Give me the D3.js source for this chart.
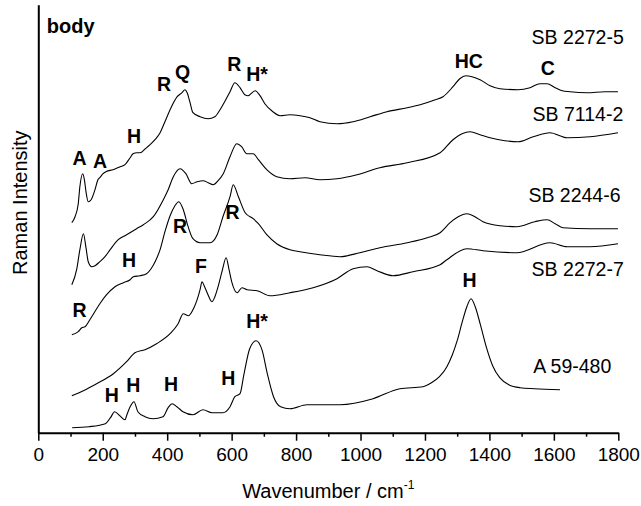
<!DOCTYPE html>
<html>
<head>
<meta charset="utf-8">
<script src="https://cdn.jsdelivr.net/npm/d3@7"></script>
<style>
  html, body { margin: 0; padding: 0; background: #fff; }
  svg { display: block; }
  text { font-family: "Liberation Sans", Arial, sans-serif; fill: #000; }
</style>
</head>
<body>
<svg id="chart" width="641" height="506"></svg>
<script>
// ---------- data (wavenumber / cm-1, Raman intensity in arbitrary offset units) ----------
const xTicks = [0, 200, 400, 600, 800, 1000, 1200, 1400, 1600, 1800];
const xMinorTicks = [100, 300, 500, 700, 900, 1100, 1300, 1500, 1700];

const sampleNames = ["SB 2272-5", "SB 7114-2", "SB 2244-6", "SB 2272-7", "A 59-480"];

const wn_SB2272_5 = [104,114,124,129,138,143,148,155,164,176,185,191,201,210,232,254,269,285,294,306,316,332,347,362,378,393,409,431,446,455,462,471,480,502,527,548,564,580,595,610,626,641,651,673,688,703,728,750,781,812,843,874,927,977,1030,1082,1145,1185,1232,1256,1287,1308,1327,1346,1371,1402,1433,1489,1526,1557,1579,1604,1626,1650,1703,1759,1799];
const int_SB2272_5 = [210,216,229,246,259,253,241,231,233,243,253,255,259,261,263,266,268,275,279,280,280,284,288,293,300,311,323,336,340,343,340,330,320,316,314,316,323,332,341,350,345,338,337,342,337,329,321,317,318,317,315,311,309,311,316,321,325,328,333,336,346,354,357,356,353,347,344,343,345,349,349,345,342,341,340,341,341];

const wn_SB7114_2 = [104,119,129,140,148,155,166,176,191,207,223,248,274,305,326,357,388,403,419,440,458,476,493,512,527,543,558,574,595,616,631,647,667,683,709,740,781,828,874,927,989,1060,1145,1247,1287,1315,1340,1371,1402,1448,1489,1536,1588,1641,1712,1799];
const int_SB7114_2 = [148,163,183,199,185,171,166,167,171,176,183,193,198,204,208,216,233,243,256,264,259,249,251,252,250,248,252,259,276,289,286,279,279,273,263,256,254,255,253,254,258,265,270,280,293,299,301,298,295,292,291,296,300,295,296,300];

const wn_SB2244_6 = [104,124,135,145,160,191,212,238,264,285,295,316,336,350,364,378,393,409,424,436,450,465,480,502,533,555,573,595,605,621,642,667,683,709,740,781,812,874,936,998,1060,1145,1207,1247,1278,1303,1330,1355,1380,1433,1485,1541,1579,1604,1628,1712,1799];
const int_SB2244_6 = [98,101,105,106,113,129,138,146,150,153,156,157,159,164,172,183,201,217,227,231,223,206,194,190,190,198,216,236,248,236,220,214,209,198,189,183,181,178,176,180,185,190,195,200,210,216,219,216,211,207,206,211,213,209,205,204,204];

const wn_SB2272_7 = [104,140,181,233,274,300,331,367,409,434,450,466,483,493,502,508,516,524,539,548,558,570,583,592,601,617,632,648,679,719,781,853,927,977,1020,1051,1101,1163,1247,1268,1330,1380,1485,1588,1641,1712,1799];
const int_SB2272_7 = [37,42,49,59,71,80,83,89,99,109,119,117,125,133,143,151,146,140,131,136,146,161,175,163,150,140,145,143,142,137,140,145,154,164,166,162,157,161,168,173,184,182,180,190,186,186,189];

const wn_A59_480 = [105,157,208,224,237,253,269,275,285,297,309,331,356,387,403,415,430,449,480,511,539,573,595,610,626,638,656,676,695,710,730,752,781,834,936,1039,1122,1194,1220,1245,1268,1285,1300,1315,1330,1343,1356,1372,1390,1410,1432,1460,1495,1540,1619];
const int_A59_480 = [5,6,9,15,21,17,13,18,26,31,21,16,14,16,25,29,26,21,18,23,20,20,26,36,39,58,84,92,82,60,36,26,24,28,28,34,44,46,50,56,66,78,92,110,126,134,126,108,86,67,55,48,45,44,43];

// peak assignment labels (bold), anchored in data coordinates
const peakLabels = ["A","A","H","R","Q","R","H*","HC","C","R","R","R","H","F","H","H","H","H","H*","H"];
const peakWn     = [128,192,297,390,448,608,679,1336,1581,440,603,128,282,505,228,295,412,590,679,1338];
const peakInt    = [268,265,290,342,354,362,352,365,358,200,214,116,166,160,31,41,42,48,105,146];

// sample name labels (left aligned)
const nameWn  = [1531, 1534, 1521, 1531, 1536];
const nameInt = [389, 312, 231, 157, 60];

// ---------- drawing ----------
const svg = d3.select("#chart");
const x = d3.scaleLinear().domain([0, 1800]).range([38.3, 618.3]);
const y = d3.scaleLinear().domain([0, 428]).range([432.7, 4.7]);

const series = [
  [wn_SB2272_5, int_SB2272_5],
  [wn_SB7114_2, int_SB7114_2],
  [wn_SB2244_6, int_SB2244_6],
  [wn_SB2272_7, int_SB2272_7],
  [wn_A59_480, int_A59_480]
];

const line = d3.line()
  .x(d => x(d[0]))
  .y(d => y(d[1]))
  .curve(d3.curveMonotoneX);

series.forEach(([wn, it]) => {
  const pts = wn.map((w, i) => [w, it[i]]);
  svg.append("path")
    .attr("d", line(pts))
    .attr("fill", "none")
    .attr("stroke", "#000")
    .attr("stroke-width", 1.1)
    .attr("stroke-linejoin", "round");
});

// x axis
const gx = svg.append("g").attr("transform", `translate(0,${y(0)})`);
gx.call(d3.axisBottom(x).tickValues(xTicks).tickSize(8).tickSizeOuter(0).tickFormat(d3.format("d")));
gx.select(".domain").attr("stroke-width", 2);
gx.selectAll(".tick line").attr("stroke-width", 1.5);
gx.selectAll(".tick text")
  .attr("y", 28).attr("dy", 0)
  .style("font-size", "19px")
  .style("font-family", '"Liberation Sans", Arial, sans-serif');

const gxm = svg.append("g").attr("transform", `translate(0,${y(0)})`);
gxm.call(d3.axisBottom(x).tickValues(xMinorTicks).tickSize(4).tickSizeOuter(0).tickFormat(""));
gxm.select(".domain").remove();
gxm.selectAll(".tick line").attr("stroke-width", 1.5);

// y axis (no ticks)
const gy = svg.append("g").attr("transform", `translate(${x(0)},0)`);
gy.call(d3.axisLeft(y).tickValues([]).tickSizeOuter(0));
gy.select(".domain").attr("stroke-width", 2);

// axis titles
const xt = svg.append("text")
  .attr("x", (x(0) + x(1800)) / 2)
  .attr("y", 498)
  .attr("text-anchor", "middle")
  .style("font-size", "20px");
xt.append("tspan").text("Wavenumber / cm");
xt.append("tspan").attr("dy", -9).style("font-size", "12px").text("-1");

svg.append("text")
  .attr("transform", `translate(26.7,${(y(0) + y(428)) / 2 - 16}) rotate(-90)`)
  .attr("text-anchor", "middle")
  .style("font-size", "20px")
  .text("Raman Intensity");

// panel title
svg.append("text")
  .attr("x", x(0) + 8.5)
  .attr("y", 33)
  .style("font-size", "20px")
  .style("font-weight", "bold")
  .text("body");

// peak labels
svg.selectAll("text.peak")
  .data(peakLabels)
  .join("text")
  .attr("class", "peak")
  .attr("x", (d, i) => x(peakWn[i]))
  .attr("y", (d, i) => y(peakInt[i]))
  .attr("text-anchor", "middle")
  .style("font-size", "19.5px")
  .style("font-weight", "bold")
  .text(d => d);

// sample names
svg.selectAll("text.name")
  .data(sampleNames)
  .join("text")
  .attr("class", "name")
  .attr("x", (d, i) => x(nameWn[i]))
  .attr("y", (d, i) => y(nameInt[i]))
  .style("font-size", "19.5px")
  .text(d => d);
</script>
</body>
</html>
